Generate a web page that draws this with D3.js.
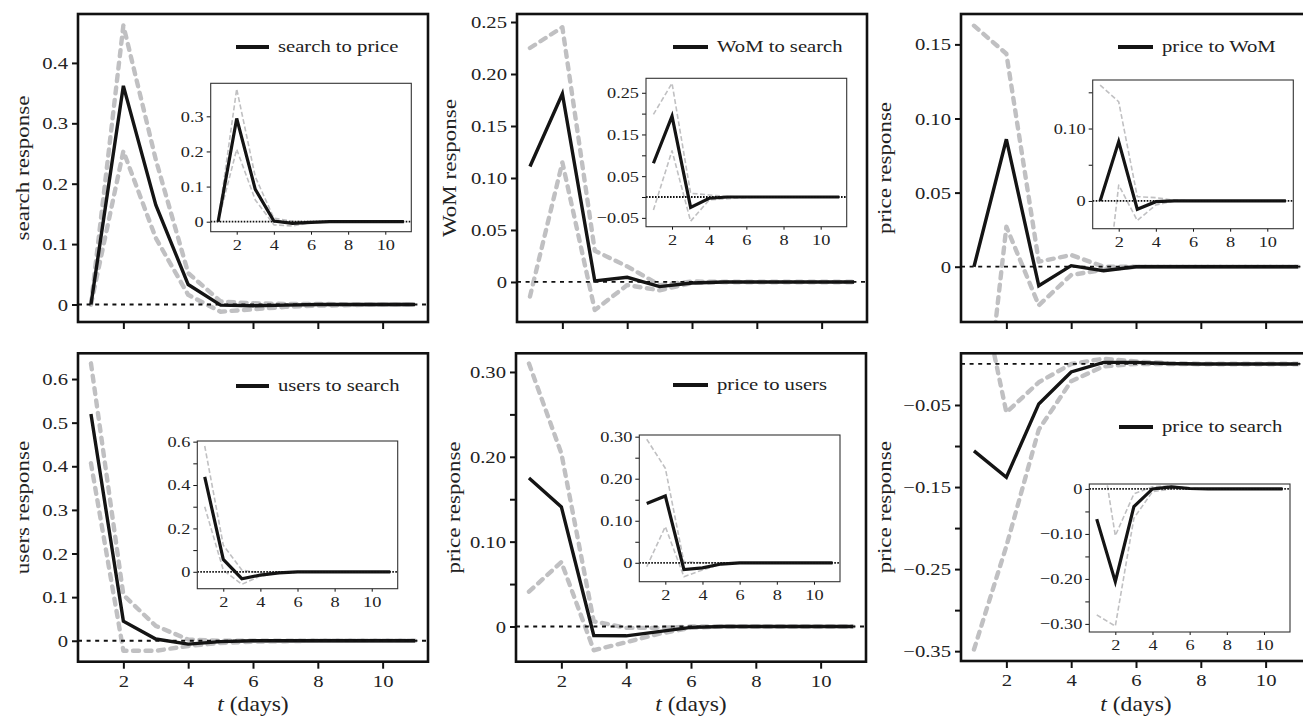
<!DOCTYPE html>
<html><head><meta charset="utf-8">
<script src="https://cdn.jsdelivr.net/npm/d3@7"></script>
<style>
html,body{margin:0;padding:0;background:#fff;}
svg{display:block;font-family:"Liberation Serif","Times New Roman",serif;}
svg text{font-family:"Liberation Serif","Times New Roman",serif !important;}
</style></head>
<body>
<svg id="chart" width="1303" height="717"></svg>
<script>
// ---------------- DATA ----------------
const days = [1,2,3,4,5,6,7,8,9,10,11];
const xTicks = [2,4,6,8,10];

// Panel 1: search to price
const p1Mean  = [0, 0.362, 0.165, 0.033, -0.001, -0.002, -0.001, 0, 0, 0, 0];
const p1Upper = [0, 0.462, 0.240, 0.052, 0.005, 0.002, 0.001, 0.001, 0, 0, 0];
const p1Lower = [0, 0.254, 0.110, 0.016, -0.012, -0.008, -0.004, -0.002, -0.001, 0, 0];
const i1Mean  = [0, 0.294, 0.092, 0.002, -0.005, -0.002, 0, 0, 0, 0, 0];
const i1Upper = [0, 0.378, 0.128, 0.010, 0.001, 0, 0, 0, 0, 0, 0];
const i1Lower = [0, 0.206, 0.062, -0.009, -0.012, -0.003, -0.001, 0, 0, 0, 0];

// Panel 2: WoM to search
const p2Mean  = [0.111, 0.181, 0.001, 0.0045, -0.0045, -0.001, 0, 0, 0, 0, 0];
const p2Upper = [0.225, 0.245, 0.030, 0.015, -0.003, 0.0005, 0, 0, 0, 0, 0];
const p2Lower = [-0.014, 0.115, -0.027, -0.003, -0.008, -0.001, 0, 0, 0, 0, 0];
const i2Mean  = [0.081, 0.194, -0.025, -0.003, 0, 0, 0, 0, 0, 0, 0];
const i2Upper = [0.198, 0.273, 0.009, 0.005, 0.001, 0, 0, 0, 0, 0, 0];
const i2Lower = [-0.031, 0.111, -0.058, -0.007, -0.004, -0.001, 0, 0, 0, 0, 0];

// Panel 3: price to WoM
const p3Mean  = [0, 0.086, -0.0128, 0.0007, -0.0027, 0, 0, 0, 0, 0, 0];
const p3Upper = [0.1626, 0.1437, 0.0034, 0.0079, 0, 0, 0, 0, 0, 0, 0];
const p3Lower = [-0.167, 0.027, -0.026, -0.0056, -0.002, 0, 0, 0, 0, 0, 0];
const i3Mean  = [0, 0.082, -0.0115, -0.001, 0, 0, 0, 0, 0, 0, 0];
const i3Upper = [0.160, 0.137, 0.006, 0.0046, 0.001, 0, 0, 0, 0, 0, 0];
const i3Lower = [-0.200, 0.022, -0.027, -0.0055, 0, 0, 0, 0, 0, 0, 0];

// Panel 4: users to search
const p4Mean  = [0.520, 0.045, 0.004, -0.0077, -0.002, 0, 0, 0, 0, 0, 0];
const p4Upper = [0.636, 0.105, 0.034, 0.003, 0, 0, 0, 0, 0, 0, 0];
const p4Lower = [0.407, -0.023, -0.023, -0.012, -0.005, -0.002, -0.001, 0, 0, 0, 0];
const i4Mean  = [0.438, 0.057, -0.032, -0.015, -0.005, 0, 0, 0, 0, 0, 0];
const i4Upper = [0.580, 0.123, 0.008, -0.005, 0, 0, 0, 0, 0, 0, 0];
const i4Lower = [0.300, 0.008, -0.058, -0.020, -0.007, -0.002, 0, 0, 0, 0, 0];

// Panel 5: price to users
const p5Mean  = [0.175, 0.141, -0.0106, -0.011, -0.006, -0.001, 0, 0, 0, 0, 0];
const p5Upper = [0.310, 0.204, 0.006, -0.0016, -0.0016, 0, 0, 0, 0, 0, 0];
const p5Lower = [0.041, 0.076, -0.028, -0.0185, -0.0087, -0.0016, 0, 0, 0, 0, 0];
const i5Mean  = [0.141, 0.159, -0.016, -0.012, -0.003, 0, 0, 0, 0, 0, 0];
const i5Upper = [0.294, 0.225, 0.002, 0, 0, 0, 0, 0, 0, 0, 0];
const i5Lower = [-0.0095, 0.086, -0.033, -0.017, -0.003, 0, 0, 0, 0, 0, 0];

// Panel 6: price to search
const p6Mean  = [-0.106, -0.138, -0.0487, -0.0097, 0.002, 0.002, 0.0005, 0, 0, 0, 0];
const p6Upper = [0.130, -0.059, -0.0223, 0, 0.0065, 0.003, 0.001, 0, 0, 0, 0];
const p6Lower = [-0.348, -0.222, -0.080, -0.021, -0.003, 0, 0, 0, 0, 0, 0];
const i6Mean  = [-0.067, -0.206, -0.039, 0, 0.0045, 0.001, 0, 0, 0, 0, 0];
const i6Upper = [0.156, -0.104, -0.011, 0.005, 0.0067, 0.002, 0, 0, 0, 0, 0];
const i6Lower = [-0.280, -0.305, -0.065, -0.006, 0, 0, 0, 0, 0, 0, 0];

// Legend texts and axis titles
const legendLabels = ["search to price","WoM to search","price to WoM","users to search","price to users","price to search"];
const yTitles = ["search response","WoM response","price response","users response","price response","price response"];
const xTitle = "days";

// Tick values and labels
const M = "\u2212";
const p1TickVals = [0,0.1,0.2,0.3,0.4];            const p1TickLabs = ["0","0.1","0.2","0.3","0.4"];
const p2TickVals = [0,0.05,0.10,0.15,0.20,0.25];   const p2TickLabs = ["0","0.05","0.10","0.15","0.20","0.25"];
const p3TickVals = [0,0.05,0.10,0.15];             const p3TickLabs = ["0","0.05","0.10","0.15"];
const p4TickVals = [0,0.1,0.2,0.3,0.4,0.5,0.6];    const p4TickLabs = ["0","0.1","0.2","0.3","0.4","0.5","0.6"];
const p5TickVals = [0,0.05,0.10,0.15,0.20,0.25,0.30]; const p5TickLabs = ["0","","0.10","","0.20","","0.30"];
const p6TickVals = [-0.35,-0.30,-0.25,-0.20,-0.15,-0.10,-0.05]; const p6TickLabs = [M+"0.35","",M+"0.25","",M+"0.15","",M+"0.05"];
const i1TickVals = [0,0.1,0.2,0.3];                const i1TickLabs = ["0","0.1","0.2","0.3"];
const i2TickVals = [-0.05,0,0.05,0.10,0.15,0.20,0.25]; const i2TickLabs = [M+"0.05","","0.05","","0.15","","0.25"];
const i3TickVals = [0,0.05,0.10,0.15];             const i3TickLabs = ["0","","0.10",""];
const i4TickVals = [0,0.1,0.2,0.3,0.4,0.5,0.6];    const i4TickLabs = ["0","","0.2","","0.4","","0.6"];
const i5TickVals = [0,0.05,0.10,0.15,0.20,0.25,0.30]; const i5TickLabs = ["0","","0.10","","0.20","","0.30"];
const i6TickVals = [-0.30,-0.25,-0.20,-0.15,-0.10,-0.05,0]; const i6TickLabs = [M+"0.30","",M+"0.20","",M+"0.10","","0"];

// ---------------- LAYOUT ----------------
const layout = [
  {frame:[78,14,428,322],    ydom:[-0.029,0.481], inset:[210.7,83.3,411.3,231.7], iydom:[-0.0285,0.394], leg:[236,269,47],  ylabX:23,  xlabels:false},
  {frame:[517,14,867,322],   ydom:[-0.0385,0.2577], inset:[646,78.3,846.7,226.7], iydom:[-0.0712,0.2847], leg:[673,708,47], ylabX:450, xlabels:false},
  {frame:[961,14,1311,322],  ydom:[-0.0373,0.1705], inset:[1092.7,80,1293.3,228.7], iydom:[-0.0383,0.167], leg:[1118,1153,47], ylabX:885, xlabels:false},
  {frame:[78,353.3,428,661.7], ydom:[-0.048,0.659], inset:[197.3,441,397.7,588.7], iydom:[-0.078,0.603], leg:[236,269,386], ylabX:23, xlabels:true},
  {frame:[516,353.3,866,661.7], ydom:[-0.0415,0.322], inset:[639.3,435,840,581.7], iydom:[-0.045,0.304], leg:[673,708,385], ylabX:454, xlabels:true},
  {frame:[961,353.3,1311,661], ydom:[-0.362,0.013], inset:[1089.3,484,1290,632], iydom:[-0.318,0.011], leg:[1119,1153,427], ylabX:885, xlabels:true}
];

const series = [
  {mean:p1Mean,upper:p1Upper,lower:p1Lower,imean:i1Mean,iupper:i1Upper,ilower:i1Lower,tv:p1TickVals,tl:p1TickLabs,itv:i1TickVals,itl:i1TickLabs},
  {mean:p2Mean,upper:p2Upper,lower:p2Lower,imean:i2Mean,iupper:i2Upper,ilower:i2Lower,tv:p2TickVals,tl:p2TickLabs,itv:i2TickVals,itl:i2TickLabs},
  {mean:p3Mean,upper:p3Upper,lower:p3Lower,imean:i3Mean,iupper:i3Upper,ilower:i3Lower,tv:p3TickVals,tl:p3TickLabs,itv:i3TickVals,itl:i3TickLabs},
  {mean:p4Mean,upper:p4Upper,lower:p4Lower,imean:i4Mean,iupper:i4Upper,ilower:i4Lower,tv:p4TickVals,tl:p4TickLabs,itv:i4TickVals,itl:i4TickLabs},
  {mean:p5Mean,upper:p5Upper,lower:p5Lower,imean:i5Mean,iupper:i5Upper,ilower:i5Lower,tv:p5TickVals,tl:p5TickLabs,itv:i5TickVals,itl:i5TickLabs},
  {mean:p6Mean,upper:p6Upper,lower:p6Lower,imean:i6Mean,iupper:i6Upper,ilower:i6Lower,tv:p6TickVals,tl:p6TickLabs,itv:i6TickVals,itl:i6TickLabs}
];

const SX = 1.18; // horizontal glyph widening to mimic the wide serif face
const svg = d3.select("#chart");
const defs = svg.append("defs");

function widenText(sel){
  sel.each(function(){
    const x = +this.getAttribute("x") || 0, y = +this.getAttribute("y") || 0;
    this.setAttribute("x",0); this.setAttribute("y",0);
    this.setAttribute("transform",`translate(${x},${y}) scale(${SX},1)`);
  });
}

function drawBox(g, rect, ydom, d, tv, tl, opt, id){
  const [x0,y0,x1,y1] = rect;
  const x = d3.scaleLinear().domain([0.6,11.4]).range([x0,x1]);
  const y = d3.scaleLinear().domain(ydom).range([y1,y0]);
  defs.append("clipPath").attr("id",id).append("rect")
      .attr("x",x0).attr("y",y0).attr("width",x1-x0).attr("height",y1-y0);
  if(opt.inset){
    g.append("rect").attr("x",x0).attr("y",y0).attr("width",x1-x0).attr("height",y1-y0).attr("fill","#fff");
  }
  const line = d3.line().x((v,i)=>x(days[i])).y(v=>y(v));
  const plot = g.append("g").attr("clip-path",`url(#${id})`);
  const grayW = opt.inset?1.6:4.4, grayDash = opt.inset?"5,2.5":"6,6.5";
  [d.upper,d.lower].forEach(arr=>{
    plot.append("path").datum(arr).attr("d",line).attr("fill","none")
      .attr("stroke","#c0c0c2").attr("stroke-width",grayW)
      .attr("stroke-dasharray",grayDash).attr("stroke-linecap",opt.inset?"butt":"round")
      .attr("stroke-linejoin","round");
  });
  plot.append("path").datum(d.mean).attr("d",line).attr("fill","none")
    .attr("stroke","#141414").attr("stroke-width",opt.inset?3.2:3.4).attr("stroke-linejoin","miter");
  // zero reference line
  plot.append("line").attr("x1",x0).attr("x2",x1).attr("y1",y(0)).attr("y2",y(0))
    .attr("stroke","#111").attr("stroke-width",1.8)
    .attr("stroke-dasharray",opt.inset?"1.6,1.4":"4,4.6");

  // y axis
  const ya = d3.axisLeft(y).tickValues(tv).tickFormat((v,i)=>tl[i])
    .tickSize(opt.inset?4:6).tickPadding(opt.inset?3:4).tickSizeOuter(0);
  const gy = g.append("g").attr("transform",`translate(${x0},0)`).call(ya);
  gy.attr("font-family",null);
  gy.select(".domain").remove();
  gy.selectAll("line").attr("stroke","#111").attr("stroke-width",opt.inset?1:2);
  gy.selectAll("text").attr("font-size",opt.inset?15.5:17.5).attr("fill","#222");
  widenText(gy.selectAll("text"));

  // x axis
  const xa = d3.axisBottom(x).tickValues(xTicks).tickSize(opt.inset?3:7).tickSizeOuter(0)
    .tickFormat(opt.showX? d3.format("d") : ()=>"");
  const gx = g.append("g").attr("transform",`translate(0,${y1})`).call(xa);
  gx.attr("font-family",null);
  gx.select(".domain").remove();
  gx.selectAll("line").attr("stroke","#111").attr("stroke-width",opt.inset?1:2);
  gx.selectAll("text").attr("font-size",opt.inset?15.5:17.5).attr("fill","#222")
    .attr("y",opt.inset?7:13);
  widenText(gx.selectAll("text"));

  // frame
  g.append("rect").attr("x",x0).attr("y",y0).attr("width",x1-x0).attr("height",y1-y0)
    .attr("fill","none").attr("stroke",opt.inset?"#333":"#111").attr("stroke-width",opt.inset?1.1:2.6);
  return {x,y};
}

layout.forEach((L,k)=>{
  const d = series[k];
  const g = svg.append("g");
  drawBox(g, L.frame, L.ydom, {mean:d.mean,upper:d.upper,lower:d.lower}, d.tv, d.tl, {inset:false, showX:L.xlabels}, "clipP"+k);

  // legend
  const [lx0,lx1,ly] = L.leg;
  g.append("line").attr("x1",lx0).attr("x2",lx1).attr("y1",ly).attr("y2",ly)
    .attr("stroke","#141414").attr("stroke-width",4);
  g.append("text").attr("transform",`translate(${lx1+9},${ly}) scale(${SX},1)`)
    .attr("dy","0.3em").attr("font-size",17.5).attr("fill","#222").text(legendLabels[k]);

  // y title
  const cy = (L.frame[1]+L.frame[3])/2;
  g.append("text").attr("transform",`translate(${L.ylabX},${cy}) rotate(-90) scale(${SX},1)`)
    .attr("text-anchor","middle").attr("dy","0.3em").attr("font-size",19.5).attr("fill","#222")
    .text(yTitles[k]);

  // x title
  if(L.xlabels){
    const cx = (L.frame[0]+L.frame[2])/2;
    const t = g.append("text").attr("transform",`translate(${cx},711) scale(${SX},1)`)
      .attr("text-anchor","middle").attr("font-size",20).attr("fill","#222");
    t.append("tspan").attr("font-style","italic").text("t");
    t.append("tspan").text(" (" + xTitle + ")");
  }

  // inset
  const gi = svg.append("g");
  drawBox(gi, L.inset, L.iydom, {mean:d.imean,upper:d.iupper,lower:d.ilower}, d.itv, d.itl, {inset:true, showX:true}, "clipI"+k);
});
</script>
</body></html>
